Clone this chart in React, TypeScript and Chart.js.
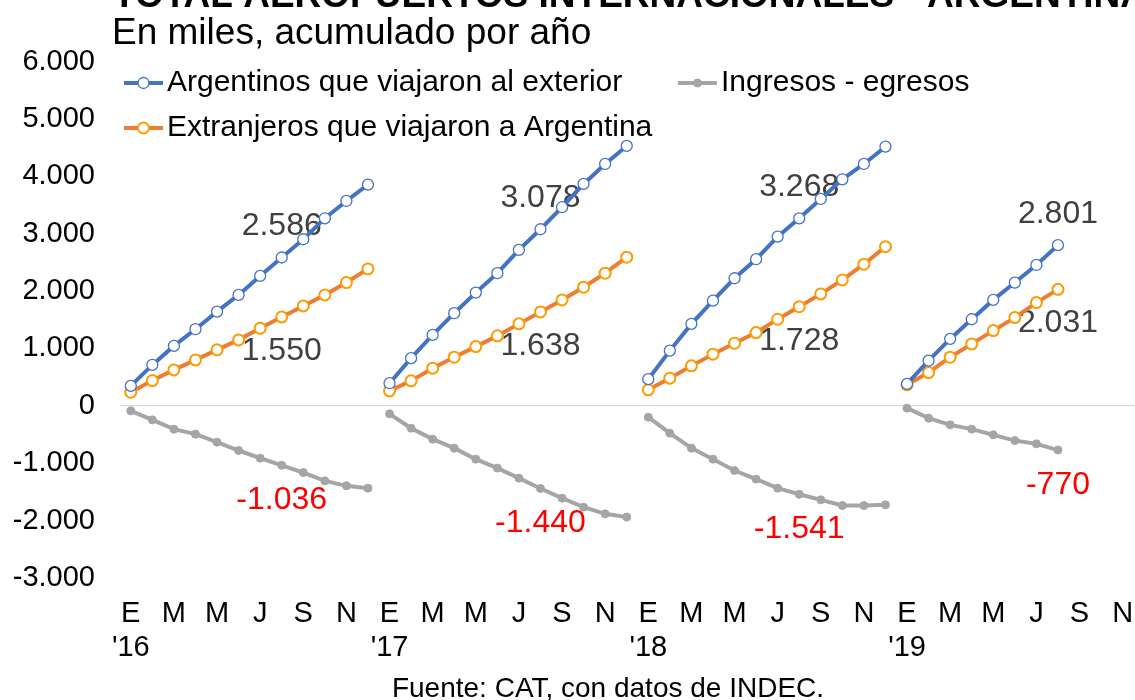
import { useEffect, useRef } from 'react';
import { Chart, registerables } from 'chart.js';

Chart.register(...registerables);

// ---------- data ----------
const years = ["'16", "'17", "'18", "'19"];
const months = ['E', 'F', 'M', 'A', 'M', 'J', 'J', 'A', 'S', 'O', 'N', 'D'];
const yTicks = [-3000, -2000, -1000, 0, 1000, 2000, 3000, 4000, 5000, 6000];

const argentinos = [
  348, 714, 1045, 1336, 1643, 1934, 2265, 2586, 2904, 3269, 3571, 3855,
  395, 831, 1237, 1615, 1974, 2312, 2718, 3078, 3462, 3868, 4216, 4530,
  465, 963, 1429, 1834, 2224, 2556, 2950, 3268, 3606, 3949, 4216, 4517,
  383, 789, 1167, 1510, 1847, 2149, 2456, 2801, null, null, null, null,
];
const extranjeros = [
  238, 441, 627, 801, 976, 1150, 1353, 1550, 1742, 1934, 2149, 2387,
  261, 436, 657, 848, 1033, 1220, 1429, 1638, 1847, 2068, 2312, 2591,
  279, 483, 697, 901, 1092, 1277, 1510, 1728, 1951, 2195, 2469, 2775,
  366, 580, 848, 1080, 1312, 1538, 1800, 2031, null, null, null, null,
];
const saldo = [
  -87, -244, -406, -493, -632, -778, -911, -1036, -1162, -1307, -1394, -1434,
  -139, -389, -580, -737, -929, -1085, -1260, -1440, -1608, -1765, -1882, -1939,
  -197, -476, -737, -929, -1127, -1277, -1434, -1541, -1638, -1737, -1737, -1725,
  -40, -214, -331, -406, -505, -605, -662, -770, null, null, null, null,
];
// indices (August of each year) that carry a value label
const labelIndices = [7, 19, 31, 43];

const titleText = 'TOTAL AEROPUERTOS INTERNACIONALES - ARGENTINA';
const subtitleText = 'En miles, acumulado por año';
const sourceText = 'Fuente: CAT, con datos de INDEC.';
const seriesNames = [
  'Argentinos que viajaron al exterior',
  'Extranjeros que viajaron a Argentina',
  'Ingresos - egresos',
];

const categories = years.flatMap((y) => months.map((m, i) => (i === 0 ? [m, y] : m)));

// ---------- styling ----------
const FONT = '"Liberation Sans", Arial, Helvetica, sans-serif';
const BLUE = '#4472C4';
const ORANGE = '#ED7D31';
const ORANGE_MK = '#FF9A00';
const GRAY = '#A5A5A5';
const SHIFT = 25; // canvas is shifted up so the title is cut like the reference

function fmt(v: number): string {
  const neg = v < 0;
  const s = Math.round(Math.abs(v)).toString().replace(/\B(?=(\d{3})+(?!\d))/g, '.');
  return (neg ? '-' : '') + s;
}

const labelColors = ['#404040', '#404040', '#FF0000'];
const labelOffsets = [-31, 34, 35];

const labelsPlugin = {
  id: 'valueLabels',
  beforeDatasetsDraw(chart: any) {
    const ctx = chart.ctx;
    ctx.save();
    ctx.font = `32px ${FONT}`;
    ctx.textAlign = 'center';
    ctx.textBaseline = 'middle';
    chart.data.datasets.forEach((ds: any, di: number) => {
      const meta = chart.getDatasetMeta(di);
      labelIndices.forEach((idx) => {
        const el = meta.data[idx];
        const v = ds.data[idx];
        if (!el || v == null) return;
        ctx.fillStyle = labelColors[di];
        ctx.fillText(fmt(v), el.x, el.y + labelOffsets[di]);
      });
    });
    ctx.restore();
  },
};

const overlayPlugin = {
  id: 'overlay',
  afterDraw(chart: any) {
    const ctx = chart.ctx;
    ctx.save();
    // title (cut off at top) and subtitle
    ctx.fillStyle = '#000';
    ctx.textAlign = 'left';
    ctx.textBaseline = 'alphabetic';
    ctx.font = `bold 37px ${FONT}`;
    ctx.fillText(titleText, 113, 7 + SHIFT);
    ctx.font = `37px ${FONT}`;
    ctx.fillText(subtitleText, 112, 44 + SHIFT);

    // source
    ctx.font = `28px ${FONT}`;
    ctx.textAlign = 'center';
    ctx.fillText(sourceText, 608, 697 + SHIFT);

    // legend
    ctx.textAlign = 'left';
    const items = [
      { x: 124, y: 83, ds: 0 },
      { x: 124, y: 128, ds: 1 },
      { x: 678, y: 83, ds: 2 },
    ];
    items.forEach((it) => {
      const ds = chart.data.datasets[it.ds];
      const yy = it.y + SHIFT;
      ctx.strokeStyle = ds.borderColor;
      ctx.lineWidth = 4;
      ctx.beginPath();
      ctx.moveTo(it.x, yy);
      ctx.lineTo(it.x + 39, yy);
      ctx.stroke();
      ctx.beginPath();
      ctx.arc(it.x + 19.5, yy, ds.pointRadius, 0, Math.PI * 2);
      ctx.fillStyle = ds.pointBackgroundColor;
      ctx.fill();
      ctx.lineWidth = ds.pointBorderWidth;
      ctx.strokeStyle = ds.pointBorderColor;
      ctx.stroke();
      ctx.fillStyle = '#000';
      ctx.font = `30px ${FONT}`;
      ctx.textBaseline = 'middle';
      ctx.fillText(seriesNames[it.ds], it.x + 43, yy);
    });
    ctx.restore();
  },
};

function yearBreak(color: string) {
  return (c: any) => (c.p1DataIndex % 12 === 0 ? 'rgba(0,0,0,0)' : color);
}

export default function App() {
  const ref = useRef<HTMLCanvasElement | null>(null);

  useEffect(() => {
    document.body.style.margin = '0';
    const canvas = ref.current;
    if (!canvas) return;
    const chart = new Chart(canvas, {
      type: 'line',
      data: {
        labels: categories,
        datasets: [
          {
            label: seriesNames[0],
            data: argentinos,
            borderColor: BLUE,
            borderWidth: 4,
            pointRadius: 5.5,
            pointBorderWidth: 1.3,
            pointBackgroundColor: '#FFFFFF',
            pointBorderColor: BLUE,
            tension: 0,
            segment: { borderColor: yearBreak(BLUE) },
          },
          {
            label: seriesNames[1],
            data: extranjeros,
            borderColor: ORANGE,
            borderWidth: 4,
            pointRadius: 5.5,
            pointBorderWidth: 2,
            pointBackgroundColor: '#FFFFFF',
            pointBorderColor: ORANGE_MK,
            tension: 0,
            segment: { borderColor: yearBreak(ORANGE) },
          },
          {
            label: seriesNames[2],
            data: saldo,
            borderColor: GRAY,
            borderWidth: 4,
            pointRadius: 4,
            pointBorderWidth: 1,
            pointBackgroundColor: GRAY,
            pointBorderColor: GRAY,
            tension: 0,
            segment: { borderColor: yearBreak(GRAY) },
          },
        ],
      },
      options: {
        responsive: false,
        animation: false,
        devicePixelRatio: 1,
        layout: { padding: { left: 0, right: 20, top: 61.6 + SHIFT, bottom: 0 } },
        plugins: {
          legend: { display: false },
          title: { display: false },
          tooltip: { enabled: false },
        },
        scales: {
          x: {
            type: 'category',
            offset: true,
            grid: { display: false, drawTicks: false },
            border: { display: false },
            ticks: {
              autoSkip: false,
              maxRotation: 0,
              minRotation: 0,
              padding: 19,
              color: '#000',
              font: { family: FONT, size: 29, lineHeight: 1.17 },
              callback: function (this: any, val: any, idx: number) {
                return idx % 2 === 0 ? this.getLabelForValue(val) : '';
              },
            },
            afterFit: (s: any) => {
              s.height = 122;
            },
          },
          y: {
            min: yTicks[0],
            max: yTicks[yTicks.length - 1],
            afterBuildTicks: (s: any) => {
              s.ticks = yTicks.map((v) => ({ value: v }));
            },
            grid: {
              drawTicks: false,
              color: (c: any) => (c.tick && c.tick.value === 0 ? '#D9D9D9' : 'rgba(0,0,0,0)'),
              lineWidth: 1.3,
            },
            border: { display: false },
            ticks: {
              padding: 25,
              color: '#000',
              font: { family: FONT, size: 29 },
              callback: (v: any) => fmt(Number(v)),
            },
            afterFit: (s: any) => {
              s.width = 120;
            },
          },
        },
      },
      plugins: [labelsPlugin, overlayPlugin],
    } as any);
    return () => chart.destroy();
  }, []);

  return (
    <div style={{ position: 'relative', width: 1135, height: 700, overflow: 'hidden', background: '#fff' }}>
      <canvas
        ref={ref}
        width={1175}
        height={725}
        style={{ position: 'absolute', left: 0, top: -SHIFT, width: 1175, height: 725 }}
      />
    </div>
  );
}
